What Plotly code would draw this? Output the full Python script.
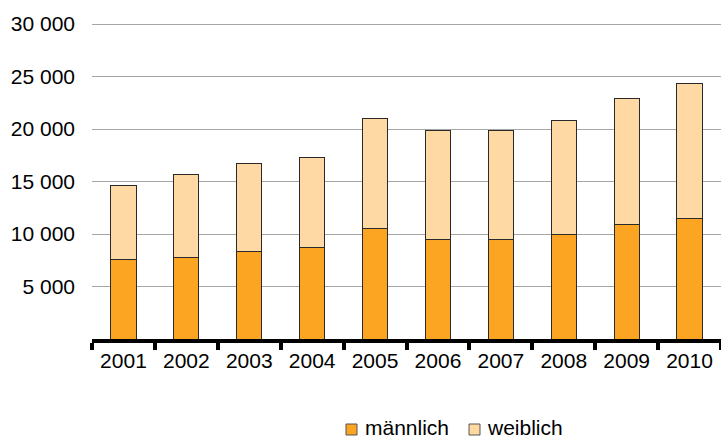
import plotly.graph_objects as go

years = ["2001", "2002", "2003", "2004", "2005", "2006", "2007", "2008", "2009", "2010"]
maennlich = [7550, 7810, 8290, 8670, 10570, 9520, 9520, 9970, 10920, 11460]
weiblich = [7090, 7880, 8470, 8660, 10480, 10320, 10350, 10820, 12030, 12920]
y_tickvals = [5000, 10000, 15000, 20000, 25000, 30000]
y_ticktext = ["5 000", "10 000", "15 000", "20 000", "25 000", "30 000"]
series_names = ["männlich", "weiblich"]
series_colors = ["#FCA522", "#FED9A3"]

fig = go.Figure()
for name, vals, col in zip(series_names, [maennlich, weiblich], series_colors):
    fig.add_trace(go.Bar(x=years, y=vals, name=name, showlegend=False,
                         marker=dict(color=col, line=dict(color="#2a2a2a", width=1))))

# custom legend (paper coords: plot spans x 92..721 px, y 22..339 px)
W, H = 629.0, 317.0
def px(x):
    return (x - 92) / W
def py(y):
    return (339 - y) / H

legend_items = [(346, 365), (469, 487)]
for (mx, tx), name, col in zip(legend_items, series_names, series_colors):
    fig.add_shape(type="rect", xref="paper", yref="paper",
                  x0=px(mx), x1=px(mx + 11), y0=py(424), y1=py(435),
                  fillcolor=col, line=dict(color="#555555", width=1))
    fig.add_annotation(xref="paper", yref="paper", x=px(tx - 1), y=py(427),
                       text=name, showarrow=False, xanchor="left", yanchor="middle",
                       borderpad=0, font=dict(size=21, color="black"))

fig.update_layout(
    barmode="stack",
    bargap=0.6,
    width=721, height=439,
    margin=dict(l=92, r=0, t=22, b=100, autoexpand=False),
    plot_bgcolor="white", paper_bgcolor="white",
    font=dict(family="Liberation Sans, Arial, sans-serif", size=21, color="black"),
    showlegend=False,
    xaxis=dict(showline=True, linecolor="black", linewidth=4, ticks="outside",
               tickson="boundaries", ticklen=7, tickwidth=4, tickcolor="black",
               showgrid=False, fixedrange=True, automargin=False),
    yaxis=dict(range=[0, 30200], tickvals=y_tickvals, ticktext=y_ticktext,
               showgrid=True, gridcolor="#a6a6a6", gridwidth=1, zeroline=False,
               showline=False, ticks="", ticklabelstandoff=16, fixedrange=True,
               automargin=False),
)

fig.write_html("out.html", config={"displayModeBar": False},
               post_script="document.body.style.margin='0';document.body.style.padding='0';document.body.style.overflow='hidden';")
